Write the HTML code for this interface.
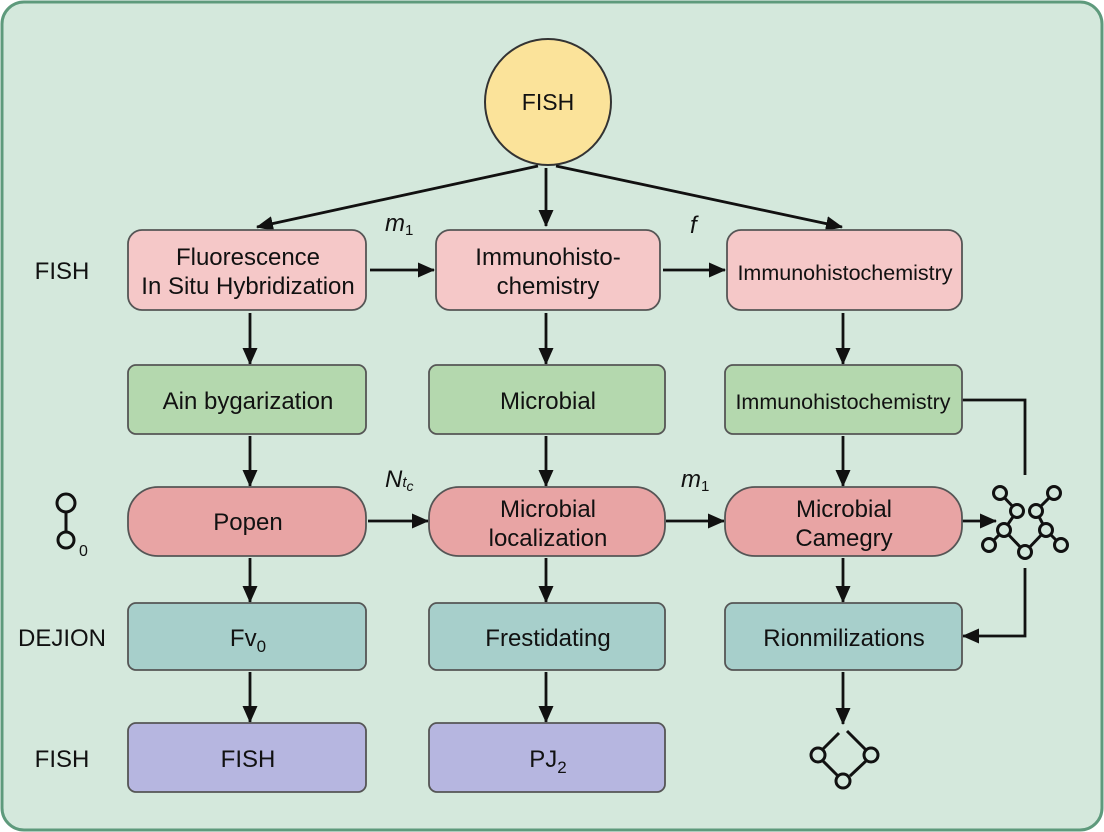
<!DOCTYPE html>
<html><head><meta charset="utf-8"><style>
html,body{margin:0;padding:0;width:1104px;height:832px;overflow:hidden;background:#fff}
svg{display:block}
text{font-family:"Liberation Sans",sans-serif;fill:#111}
</style></head><body>
<svg width="1104" height="832" viewBox="0 0 1104 832">
<defs>
<marker id="b" markerWidth="17" markerHeight="15" refX="16" refY="7.5" orient="auto" markerUnits="userSpaceOnUse"><path d="M0,0 L17,7.5 L0,15 z" fill="#111"/></marker></defs>
<rect x="2" y="2" width="1100" height="828" rx="22" fill="#d4e8dc" stroke="#5e9a7c" stroke-width="3"/>
<circle cx="548" cy="102" r="63" fill="#fbe39a" stroke="#333" stroke-width="2"/>
<text x="548" y="110" font-size="23" text-anchor="middle">FISH</text>
<g stroke="#111" stroke-width="2.8" fill="none" marker-end="url(#b)">
<line x1="538" y1="166" x2="257" y2="227"/>
<line x1="546" y1="168" x2="546" y2="226"/>
<line x1="556" y1="166" x2="842" y2="227"/>
<line x1="370" y1="270" x2="434" y2="270"/>
<line x1="663" y1="270" x2="725" y2="270"/>
<line x1="368" y1="521" x2="428" y2="521"/>
<line x1="666" y1="521" x2="724" y2="521"/>
<line x1="962" y1="521" x2="996" y2="521"/>
<line x1="250" y1="313" x2="250" y2="364"/><line x1="546" y1="313" x2="546" y2="364"/><line x1="843" y1="313" x2="843" y2="364"/>
<line x1="250" y1="436" x2="250" y2="486"/><line x1="546" y1="436" x2="546" y2="486"/><line x1="843" y1="436" x2="843" y2="486"/>
<line x1="250" y1="558" x2="250" y2="602"/><line x1="546" y1="558" x2="546" y2="602"/><line x1="843" y1="558" x2="843" y2="602"/>
<line x1="250" y1="672" x2="250" y2="722"/><line x1="546" y1="672" x2="546" y2="722"/><line x1="843" y1="672" x2="843" y2="724"/>
<polyline points="1025,568 1025,636 963,636"/>
</g>
<polyline points="962,400 1025,400 1025,475" stroke="#111" stroke-width="2.8" fill="none"/>
<g stroke="#555" stroke-width="1.8">
<rect x="128" y="230" width="238" height="80" rx="14" fill="#f5c8c8"/>
<rect x="436" y="230" width="224" height="80" rx="14" fill="#f5c8c8"/>
<rect x="727" y="230" width="235" height="80" rx="14" fill="#f5c8c8"/>
<rect x="128" y="365" width="238" height="69" rx="8" fill="#b4d8ae"/>
<rect x="429" y="365" width="236" height="69" rx="8" fill="#b4d8ae"/>
<rect x="725" y="365" width="237" height="69" rx="8" fill="#b4d8ae"/>
<rect x="128" y="487" width="238" height="69" rx="30" fill="#e8a4a4"/>
<rect x="429" y="487" width="236" height="69" rx="30" fill="#e8a4a4"/>
<rect x="725" y="487" width="237" height="69" rx="30" fill="#e8a4a4"/>
<rect x="128" y="603" width="238" height="67" rx="8" fill="#a7cfcb"/>
<rect x="429" y="603" width="236" height="67" rx="8" fill="#a7cfcb"/>
<rect x="725" y="603" width="237" height="67" rx="8" fill="#a7cfcb"/>
<rect x="128" y="723" width="238" height="69" rx="8" fill="#b6b6e0"/>
<rect x="429" y="723" width="236" height="69" rx="8" fill="#b6b6e0"/>
</g>
<g font-size="24" text-anchor="middle">
<text x="248" y="265">Fluorescence</text><text x="248" y="294">In Situ Hybridization</text>
<text x="548" y="265">Immunohisto-</text><text x="548" y="294">chemistry</text>
<text x="845" y="280" font-size="21.5">Immunohistochemistry</text>
<text x="248" y="409">Ain bygarization</text>
<text x="548" y="409">Microbial</text>
<text x="843" y="409" font-size="21.5">Immunohistochemistry</text>
<text x="248" y="530">Popen</text>
<text x="548" y="517">Microbial</text><text x="548" y="546">localization</text>
<text x="844" y="517">Microbial</text><text x="844" y="546">Camegry</text>
<text x="248" y="646">Fv<tspan font-size="17" dy="6">0</tspan></text>
<text x="548" y="646">Frestidating</text>
<text x="844" y="646">Rionmilizations</text>
<text x="248" y="767">FISH</text>
<text x="548" y="767">PJ<tspan font-size="17" dy="6">2</tspan></text>
<text x="62" y="279">FISH</text>
<text x="62" y="646">DEJION</text>
<text x="62" y="767">FISH</text>
</g>
<g font-size="24" font-style="italic">
<text x="385" y="231">m<tspan font-size="15" dy="4" font-style="normal">1</tspan></text>
<text x="690" y="233">f</text>
<text x="385" y="487">N<tspan font-size="15" dy="0">t</tspan><tspan font-size="14" dy="4">c</tspan></text>
<text x="681" y="487">m<tspan font-size="15" dy="4" font-style="normal">1</tspan></text>
</g>
<g stroke="#111" stroke-width="3" fill="#d4e8dc">
<line x1="66" y1="505" x2="66" y2="535"/>
<circle cx="66" cy="503" r="9"/><circle cx="66" cy="540" r="8"/>
<line x1="1000" y1="493" x2="1017" y2="511"/><line x1="1054" y1="493" x2="1036" y2="511"/>
<line x1="1017" y1="511" x2="1004" y2="530"/><line x1="1036" y1="511" x2="1046" y2="530"/>
<line x1="1004" y1="530" x2="989" y2="545"/><line x1="1046" y1="530" x2="1061" y2="545"/>
<line x1="1004" y1="530" x2="1025" y2="552"/><line x1="1046" y1="530" x2="1025" y2="552"/>
<circle cx="1000" cy="493" r="6.5"/><circle cx="1054" cy="493" r="6.5"/>
<circle cx="1017" cy="511" r="6.5"/><circle cx="1036" cy="511" r="6.5"/>
<circle cx="1004" cy="530" r="6.5"/><circle cx="1046" cy="530" r="6.5"/>
<circle cx="989" cy="545" r="6.5"/><circle cx="1025" cy="552" r="6.5"/><circle cx="1061" cy="545" r="6.5"/>
<line x1="839" y1="733" x2="822" y2="750"/><line x1="847" y1="731" x2="866" y2="750"/>
<line x1="822" y1="760" x2="838" y2="776"/><line x1="867" y1="760" x2="850" y2="776"/>
<circle cx="818" cy="755" r="7"/><circle cx="871" cy="755" r="7"/><circle cx="843" cy="781" r="7"/>
</g>
<text x="79" y="556" font-size="16">0</text>
</svg>
</body></html>
